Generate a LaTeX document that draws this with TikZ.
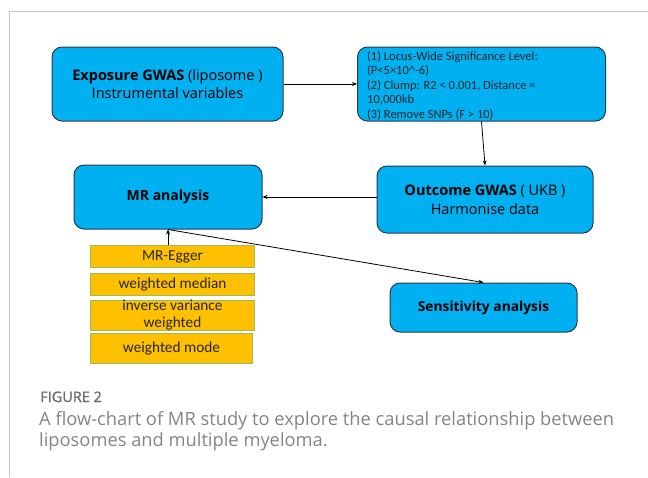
\documentclass[tikz,border=0pt]{standalone}
\usepackage{fontspec}
\setmainfont{Open Sans}
\newfontfamily\carl{Carlito}
\newfontfamily\capf{Open Sans}
\newfontfamily\capfb{Open Sans}[FakeBold=1.2]
\usetikzlibrary{arrows.meta}
\definecolor{boxblue}{HTML}{00B0F0}
\definecolor{boxedge}{HTML}{2B3A4A}
\definecolor{yfill}{HTML}{FFC000}
\definecolor{yedge}{HTML}{9BBB59}
\definecolor{capgray}{HTML}{858585}
\definecolor{framegray}{HTML}{C4C4C4}
\begin{document}
\begin{tikzpicture}[x=1pt,y=-1pt,
  bluebox/.style={draw=boxedge, fill=boxblue, rounded corners=10pt, line width=1pt, align=center, inner sep=0pt, text=black},
  ybox/.style={draw=yedge, fill=yfill, line width=0.8pt, inner sep=0pt, align=center, minimum width=164pt, font=\carl\fontsize{15.3}{17}\selectfont, text=black!85},
  arr/.style={-{Stealth[length=5pt,width=4pt]}, line width=0.8pt, black},
  captext/.style={anchor=base west, inner sep=0pt, text=capgray, font=\capf\fontsize{18.3}{21}\selectfont}]
\useasboundingbox (0,0) rectangle (648,477);
\fill[white] (0,0) rectangle (648,477);
\draw[framegray, line width=1pt] (648,11) coordinate (fra) -- (9,11) coordinate (frb) -- (9,477) coordinate (frc);

% blue boxes
\node[bluebox, minimum width=231pt, minimum height=74pt, font=\fontsize{14.5}{18}\selectfont] (exp) at (167.5,84)
  {\textbf{Exposure GWAS} (liposome )\\ Instrumental variables};
\node[bluebox, minimum width=248pt, minimum height=74pt] (crit) at (481.5,84) {};
\node[anchor=north west, inner sep=0pt, align=left, text=black!85, font=\carl\fontsize{12.5}{14.5}\selectfont] (crittxt) at (367,51)
  {(1) Locus-Wide Significance Level:\\(P<5×10\textasciicircum-6)\\(2) Clump: R2 < 0.001, Distance =\\10,000kb\\(3) Remove SNPs (F > 10)};
\node[bluebox, minimum width=216pt, minimum height=67pt, font=\fontsize{14.5}{19}\selectfont] (out) at (485,199.5)
  {\textbf{Outcome GWAS} ( UKB )\\ Harmonise data};
\node[bluebox, minimum width=188pt, minimum height=64pt, font=\bfseries\fontsize{14}{16}\selectfont] (mr) at (168,197) {MR analysis};
\node[bluebox, minimum width=187pt, minimum height=49pt, font=\bfseries\fontsize{13.8}{16}\selectfont] (sens) at (483.5,307.5) {Sensitivity analysis};

% yellow boxes
\node[ybox, minimum height=22pt] (egger) at (172.5,256.5) {MR-Egger};
\node[ybox, minimum height=22pt] (median) at (172.5,284) {weighted median};
\node[ybox, minimum height=27pt] (ivw) at (172.5,315.5) {inverse variance\\weighted};
\node[ybox, minimum height=30pt, minimum width=162pt] (mode) at (171.5,348) {weighted mode};

% connectors
\draw[arr] (exp.east) -- (crit.west);
\draw[arr] (crit.south) -- (out.north);
\draw[arr] (out.west |- mr.east) -- (mr.east);
\draw[arr] (egger.north -| mr.south) -- (mr.south);
\draw[arr] (mr.south) -- (sens.north);

% caption
\node[captext, text=capgray!80!black, font=\capfb\fontsize{14.5}{18}\selectfont] (fig) at (40,402) {FIGURE 2};
\node[captext] (cap1) at (39,425) {A flow-chart of MR study to explore the causal relationship between};
\node[captext] (cap2) at (39,446) {liposomes and multiple myeloma.};
\end{tikzpicture}
\end{document}
